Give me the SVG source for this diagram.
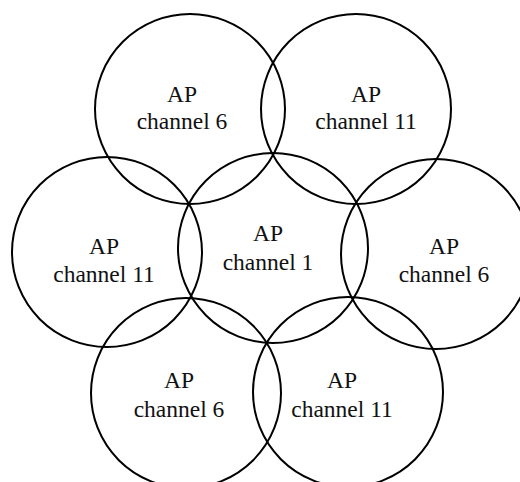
<svg xmlns="http://www.w3.org/2000/svg" width="520" height="482" viewBox="0 0 520 482">
<style>
.c{fill:none;stroke:#000;stroke-width:2}
.t{font-family:"Liberation Serif","Times New Roman",serif;font-size:23.5px;fill:#111;text-anchor:middle}
</style>
<rect width="520" height="482" fill="#fff"/>
<g id="ap-top-left"><circle class="c" cx="190" cy="109" r="95"/><text class="t" x="182" y="102">AP</text><text class="t" x="182" y="129">channel 6</text></g>
<g id="ap-top-right"><circle class="c" cx="356" cy="109" r="95"/><text class="t" x="366" y="102">AP</text><text class="t" x="366" y="129">channel 11</text></g>
<g id="ap-left"><circle class="c" cx="107" cy="252" r="95"/><text class="t" x="104" y="254">AP</text><text class="t" x="104" y="282">channel 11</text></g>
<g id="ap-center"><circle class="c" cx="273" cy="248" r="95"/><text class="t" x="268" y="241">AP</text><text class="t" x="268" y="270">channel 1</text></g>
<g id="ap-right"><circle class="c" cx="436" cy="254" r="95"/><text class="t" x="444" y="254">AP</text><text class="t" x="444" y="282">channel 6</text></g>
<g id="ap-bottom-left"><circle class="c" cx="186" cy="393" r="95"/><text class="t" x="179" y="388">AP</text><text class="t" x="179" y="417">channel 6</text></g>
<g id="ap-bottom-right"><circle class="c" cx="348" cy="392" r="95"/><text class="t" x="342" y="388">AP</text><text class="t" x="342" y="417">channel 11</text></g>
<g id="connectors"/>
</svg>
